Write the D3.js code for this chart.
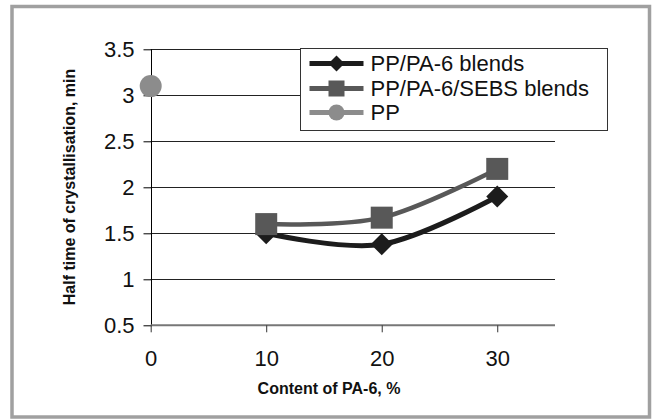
<!DOCTYPE html>
<html>
<head>
<meta charset="utf-8">
<script src="https://cdn.jsdelivr.net/npm/d3@7"></script>
<style>
  body { margin: 0; background: #fff; }
  svg { display: block; font-family: Arial, "Liberation Sans", sans-serif; }
</style>
</head>
<body>
<svg width="653" height="420"></svg>
<script>
// data
var content = [10, 20, 30];
var blends = [1.5, 1.38, 1.9];       // PP/PA-6 blends
var sebsBlends = [1.6, 1.67, 2.2];   // PP/PA-6/SEBS blends
var ppX = [0];
var pp = [3.1];                      // neat PP
var xTicks = [0, 10, 20, 30];
var yTicks = [0.5, 1, 1.5, 2, 2.5, 3, 3.5];
var seriesNames = ["PP/PA-6 blends", "PP/PA-6/SEBS blends", "PP"];

var svg = d3.select("svg");

// outer frame
svg.append("rect")
  .attr("x", 12).attr("y", 6.5)
  .attr("width", 637.5).attr("height", 410.5)
  .attr("fill", "none")
  .attr("stroke", "#a0a0a0")
  .attr("stroke-width", 3.5);

var x = d3.scaleLinear().domain([0, 35]).range([150.7, 555]);
var y = d3.scaleLinear().domain([0.5, 3.5]).range([325.3, 49.3]);

// gridlines
svg.append("g")
  .selectAll("line")
  .data(yTicks.filter(function(d) { return d > 0.5; }))
  .enter().append("line")
  .attr("x1", x(0)).attr("x2", x(35))
  .attr("y1", function(d) { return Math.round(y(d)) + 0.5; })
  .attr("y2", function(d) { return Math.round(y(d)) + 0.5; })
  .attr("stroke", "#222")
  .attr("stroke-width", 1);

// y axis
var yAxis = svg.append("g")
  .attr("transform", "translate(" + (Math.round(x(0)) + 0.5) + ",0)")
  .call(d3.axisLeft(y).tickValues(yTicks).tickSize(8).tickPadding(9)
    .tickFormat(function(d) { return d; }));
yAxis.select(".domain").attr("stroke", "#000").attr("d", "M0," + y(3.5) + "V" + y(0.5));
yAxis.selectAll(".tick line").attr("stroke", "#000");
yAxis.selectAll("text")
  .attr("font-size", 22).attr("font-family", "Arial, 'Liberation Sans', sans-serif")
  .attr("fill", "#111");

// x axis
var xAxis = svg.append("g")
  .attr("transform", "translate(0," + y(0.5) + ")")
  .call(d3.axisBottom(x).tickValues(xTicks).tickSize(7).tickPadding(18)
    .tickFormat(function(d) { return d; }));
xAxis.select(".domain").attr("stroke", "#777").attr("stroke-width", 2)
  .attr("d", "M" + x(0) + ",0H" + x(35));
xAxis.selectAll(".tick line").attr("stroke", "#333");
xAxis.selectAll("text")
  .attr("font-size", 22).attr("font-family", "Arial, 'Liberation Sans', sans-serif")
  .attr("fill", "#111");

// axis titles
svg.append("text")
  .attr("x", 329).attr("y", 394)
  .attr("text-anchor", "middle")
  .attr("font-size", 16).attr("font-weight", "bold")
  .attr("fill", "#111")
  .text("Content of PA-6, %");

svg.append("text")
  .attr("transform", "translate(75,187) rotate(-90)")
  .attr("text-anchor", "middle")
  .attr("font-size", 16).attr("font-weight", "bold")
  .attr("fill", "#111")
  .text("Half time of crystallisation, min");

var line = d3.line()
  .x(function(d) { return x(d[0]); })
  .y(function(d) { return y(d[1]); })
  .curve(d3.curveCardinal.tension(0));

var sebsPts = d3.zip(content, sebsBlends);
var blendPts = d3.zip(content, blends);
var ppPts = d3.zip(ppX, pp);

var colBlack = "#1c1c1c", colSebs = "#585858", colPP = "#8c8c8c";

// SEBS series
svg.append("path").datum(sebsPts)
  .attr("d", line).attr("fill", "none")
  .attr("stroke", colSebs).attr("stroke-width", 4.5);
// PP/PA-6 series
svg.append("path").datum(blendPts)
  .attr("d", line).attr("fill", "none")
  .attr("stroke", colBlack).attr("stroke-width", 5);

var diamond = function(s) { return "M0," + (-s) + "L" + s + ",0L0," + s + "L" + (-s) + ",0Z"; };

svg.append("g").selectAll("path")
  .data(blendPts).enter().append("path")
  .attr("transform", function(d) { return "translate(" + x(d[0]) + "," + y(d[1]) + ")"; })
  .attr("d", diamond(11))
  .attr("fill", colBlack);

svg.append("g").selectAll("rect")
  .data(sebsPts).enter().append("rect")
  .attr("x", function(d) { return x(d[0]) - 11; })
  .attr("y", function(d) { return y(d[1]) - 11; })
  .attr("width", 22).attr("height", 22)
  .attr("fill", colSebs);

svg.append("g").selectAll("circle")
  .data(ppPts).enter().append("circle")
  .attr("cx", function(d) { return x(d[0]); })
  .attr("cy", function(d) { return y(d[1]); })
  .attr("r", 11)
  .attr("fill", colPP);

// legend
var legend = svg.append("g").attr("transform", "translate(300.5,48.5)");
legend.append("rect")
  .attr("width", 307).attr("height", 82)
  .attr("fill", "#fff").attr("stroke", "#333").attr("stroke-width", 1);

var legendRows = [
  { name: seriesNames[0], color: colBlack, shape: "diamond", y: 15 },
  { name: seriesNames[1], color: colSebs, shape: "square", y: 40 },
  { name: seriesNames[2], color: colPP, shape: "circle", y: 64 }
];
var row = legend.selectAll("g.row").data(legendRows).enter().append("g")
  .attr("class", "row")
  .attr("transform", function(d) { return "translate(0," + d.y + ")"; });
row.append("line")
  .attr("x1", 9).attr("x2", 63)
  .attr("stroke", function(d) { return d.color; })
  .attr("stroke-width", 5);
row.each(function(d) {
  var g = d3.select(this);
  if (d.shape == "diamond") g.append("path").attr("transform", "translate(36,0)").attr("d", diamond(8)).attr("fill", d.color);
  else if (d.shape == "square") g.append("rect").attr("x", 28).attr("y", -8).attr("width", 16).attr("height", 16).attr("fill", d.color);
  else g.append("circle").attr("cx", 36).attr("r", 8).attr("fill", d.color);
});
row.append("text")
  .attr("x", 70).attr("dy", "0.36em")
  .attr("font-size", 22).attr("fill", "#111")
  .text(function(d) { return d.name; });
</script>
</body>
</html>
